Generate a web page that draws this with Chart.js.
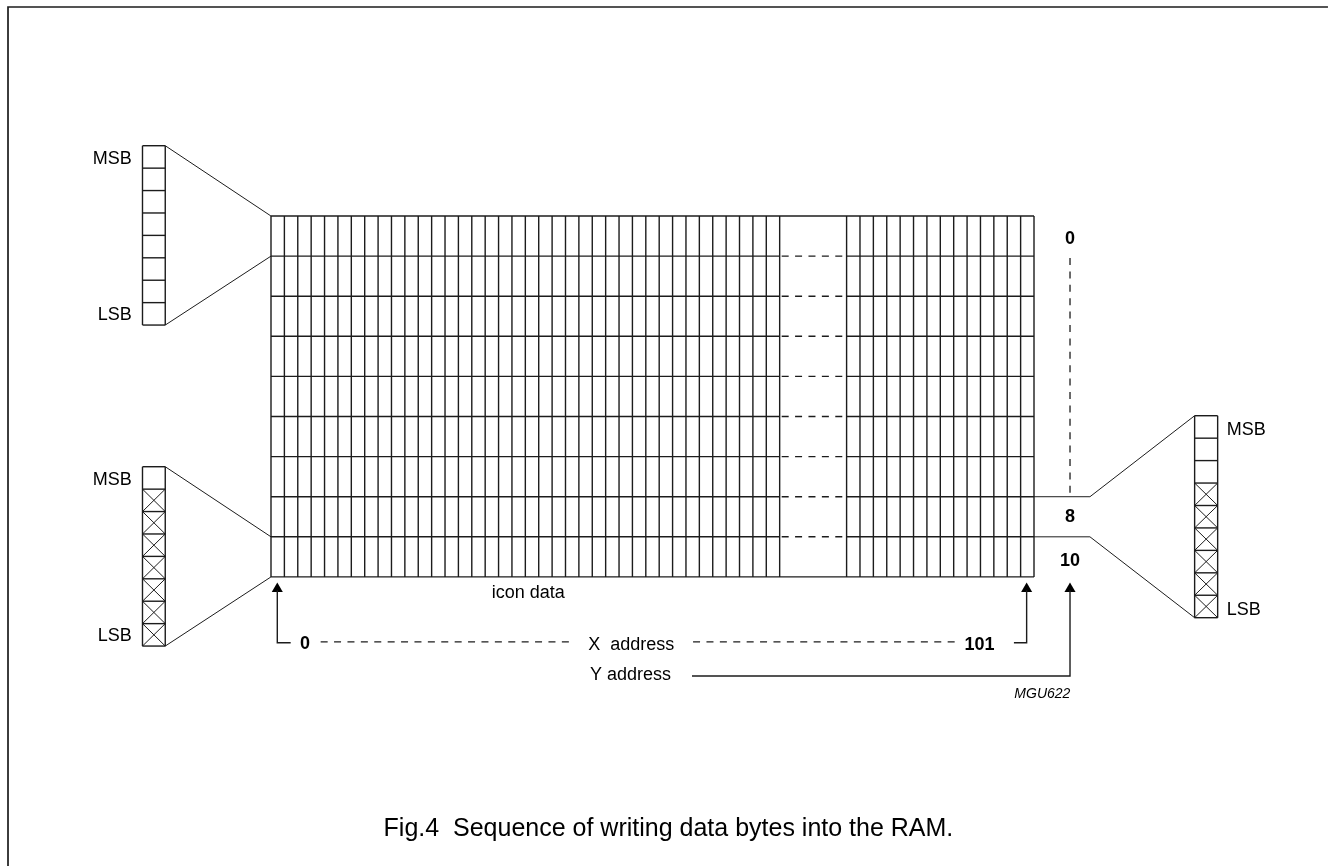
<!DOCTYPE html>
<html>
<head>
<meta charset="utf-8">
<title>Fig.4 Sequence of writing data bytes into the RAM</title>
<script src="https://cdn.jsdelivr.net/npm/chart.js@4"></script>
<style>
  html, body { margin: 0; padding: 0; background: #fff; }
  canvas { display: block; }
</style>
</head>
<body>
<canvas id="ramChart" width="1328" height="866"></canvas>
<script>
// All values are in grid units: x = one RAM column, y = one RAM row
const columnLines = [0,1,2,3,4,5,6,7,8,9,10,11,12,13,14,15,16,17,18,19,20,21,22,23,24,25,26,27,28,29,30,31,32,33,34,35,36,37,38,43,44,45,46,47,48,49,50,51,52,53,54,55,56,57];
const rowLines = [0,1,2,3,4,5,6,7,8,9];
const gapDashRows = [1,2,3,4,5,6,7,8];
const gapDashColumns = [38.15, 42.88];

const leftByteColumns = [-9.6, -7.9];
const rightByteColumns = [69, 70.72];
const topByteEdges = [-1.753,-1.194,-0.635,-0.076,0.483,1.042,1.601,2.16,2.719];
const lowerByteEdges = [6.252,6.811,7.37,7.929,8.488,9.047,9.606,10.165,10.724];
const rightByteEdges = [4.98,5.54,6.099,6.659,7.219,7.778,8.338,8.898,9.457,10.017];
const lowerByteCrossedCells = [1,2,3,4,5,6,7];
const rightByteCrossedCells = [3,4,5,6,7,8];

const solidPaths = [
  [[78.96,-5.212],[-19.647,-5.212],[-19.647,16.209]],
  [[-7.9,-1.753],[0,0]],
  [[-7.9,2.719],[0,1]],
  [[-7.9,6.252],[0,8]],
  [[-7.9,10.724],[0,9]],
  [[57,7],[61.18,7],[69,4.98]],
  [[57,8],[61.18,8],[69,10.017]]
];
const arrowPaths = [
  [[1.47,10.64],[0.47,10.64],[0.47,9.33]],
  [[55.5,10.64],[56.45,10.64],[56.45,9.33]],
  [[31.45,11.47],[59.69,11.47],[59.69,9.33]]
];
const arrowHeads = [[0.47,9.297],[56.45,9.297],[59.69,9.297]];
const dashedPaths = [
  [[59.69,1.047],[59.69,7]],
  [[3.71,10.62],[22.71,10.62]],
  [[31.53,10.62],[51.1,10.62]]
];

const regularLabels = ['MSB','LSB','MSB','LSB','icon data','X  address','Y address'];
const regularLabelAt = [[-13.32,-1.304],[-12.95,2.594],[-13.32,6.7],[-12.95,10.59],[16.49,9.519],[23.7,10.82],[23.83,11.57]];
const sideLabels = ['MSB','LSB'];
const sideLabelAt = [[71.4,5.454],[71.4,9.95]];
const boldLabels = ['0','8','10','101','0'];
const boldLabelAt = [[59.69,0.698],[59.69,7.63],[59.69,8.728],[52.93,10.82],[2.54,10.805]];
const figureCode = 'MGU622';
const figureCodeAt = [55.53,12.02];
const caption = 'Fig.4  Sequence of writing data bytes into the RAM.';
const captionAt = [29.69,15.461];

const ink = '#1c1c1c';
const datasets = [];

function addLine(path, width, dash) {
  datasets.push({
    data: path.map(p => ({ x: p[0], y: p[1] })),
    showLine: true,
    borderColor: ink,
    borderWidth: width,
    borderDash: dash || [],
    borderCapStyle: 'butt',
    pointRadius: 0,
    tension: 0
  });
}

// RAM grid
columnLines.forEach(c => addLine([[c, rowLines[0]], [c, rowLines[rowLines.length - 1]]], 1.4));
rowLines.forEach(r => {
  if (gapDashRows.includes(r)) {
    addLine([[columnLines[0], r], [gapDashColumns[0] - 0.15, r]], 1.4);
    addLine([[gapDashColumns[1] + 0.12, r], [columnLines[columnLines.length - 1], r]], 1.4);
    addLine([[gapDashColumns[0], r], [gapDashColumns[1], r]], 1.4, [7, 6.4]);
  } else {
    addLine([[columnLines[0], r], [columnLines[columnLines.length - 1], r]], 1.4);
  }
});

// Byte stacks drawn beside the grid
function addByte(cols, edges, crossed) {
  cols.forEach(c => addLine([[c, edges[0]], [c, edges[edges.length - 1]]], 1.4));
  edges.forEach(e => addLine([[cols[0], e], [cols[1], e]], 1.4));
  crossed.forEach(i => {
    addLine([[cols[0], edges[i]], [cols[1], edges[i + 1]]], 1);
    addLine([[cols[0], edges[i + 1]], [cols[1], edges[i]]], 1);
  });
}
addByte(leftByteColumns, topByteEdges, []);
addByte(leftByteColumns, lowerByteEdges, lowerByteCrossedCells);
addByte(rightByteColumns, rightByteEdges, rightByteCrossedCells);

solidPaths.forEach((p, i) => addLine(p, i === 0 ? 1.7 : 1));
arrowPaths.forEach(p => addLine(p, 1.4));
dashedPaths.forEach(p => addLine(p, 1.3, [7, 6.4]));

datasets.push({
  data: arrowHeads.map(p => ({ x: p[0], y: p[1] })),
  showLine: false,
  pointStyle: 'triangle',
  pointRadius: 6.4,
  pointBorderWidth: 0,
  pointBackgroundColor: '#000'
});

const textPlugin = {
  id: 'diagramText',
  afterDraw(chart) {
    const { ctx, scales } = chart;
    const put = (text, at, font, align) => {
      ctx.font = font;
      ctx.textAlign = align;
      ctx.textBaseline = 'alphabetic';
      ctx.fillStyle = '#000';
      ctx.fillText(text, scales.x.getPixelForValue(at[0]), scales.y.getPixelForValue(at[1]));
    };
    ctx.save();
    regularLabels.forEach((t, i) => put(t, regularLabelAt[i], '18px "Liberation Sans"', 'left'));
    sideLabels.forEach((t, i) => put(t, sideLabelAt[i], '18px "Liberation Sans"', 'left'));
    boldLabels.forEach((t, i) => put(t, boldLabelAt[i], 'bold 18px "Liberation Sans"', 'center'));
    put(figureCode, figureCodeAt, 'italic 14px "Liberation Sans"', 'left');
    put(caption, captionAt, '25px "Liberation Sans"', 'center');
    ctx.restore();
  }
};

new Chart(document.getElementById('ramChart').getContext('2d'), {
  type: 'scatter',
  data: { datasets },
  options: {
    responsive: false,
    animation: false,
    devicePixelRatio: 1,
    layout: { padding: 0, autoPadding: false },
    plugins: { legend: { display: false }, tooltip: { enabled: false } },
    scales: {
      x: { type: 'linear', display: false, min: -20.245, max: 78.963 },
      y: { type: 'linear', display: false, min: -5.387, max: 16.209, reverse: true }
    }
  },
  plugins: [textPlugin]
});
</script>
</body>
</html>
